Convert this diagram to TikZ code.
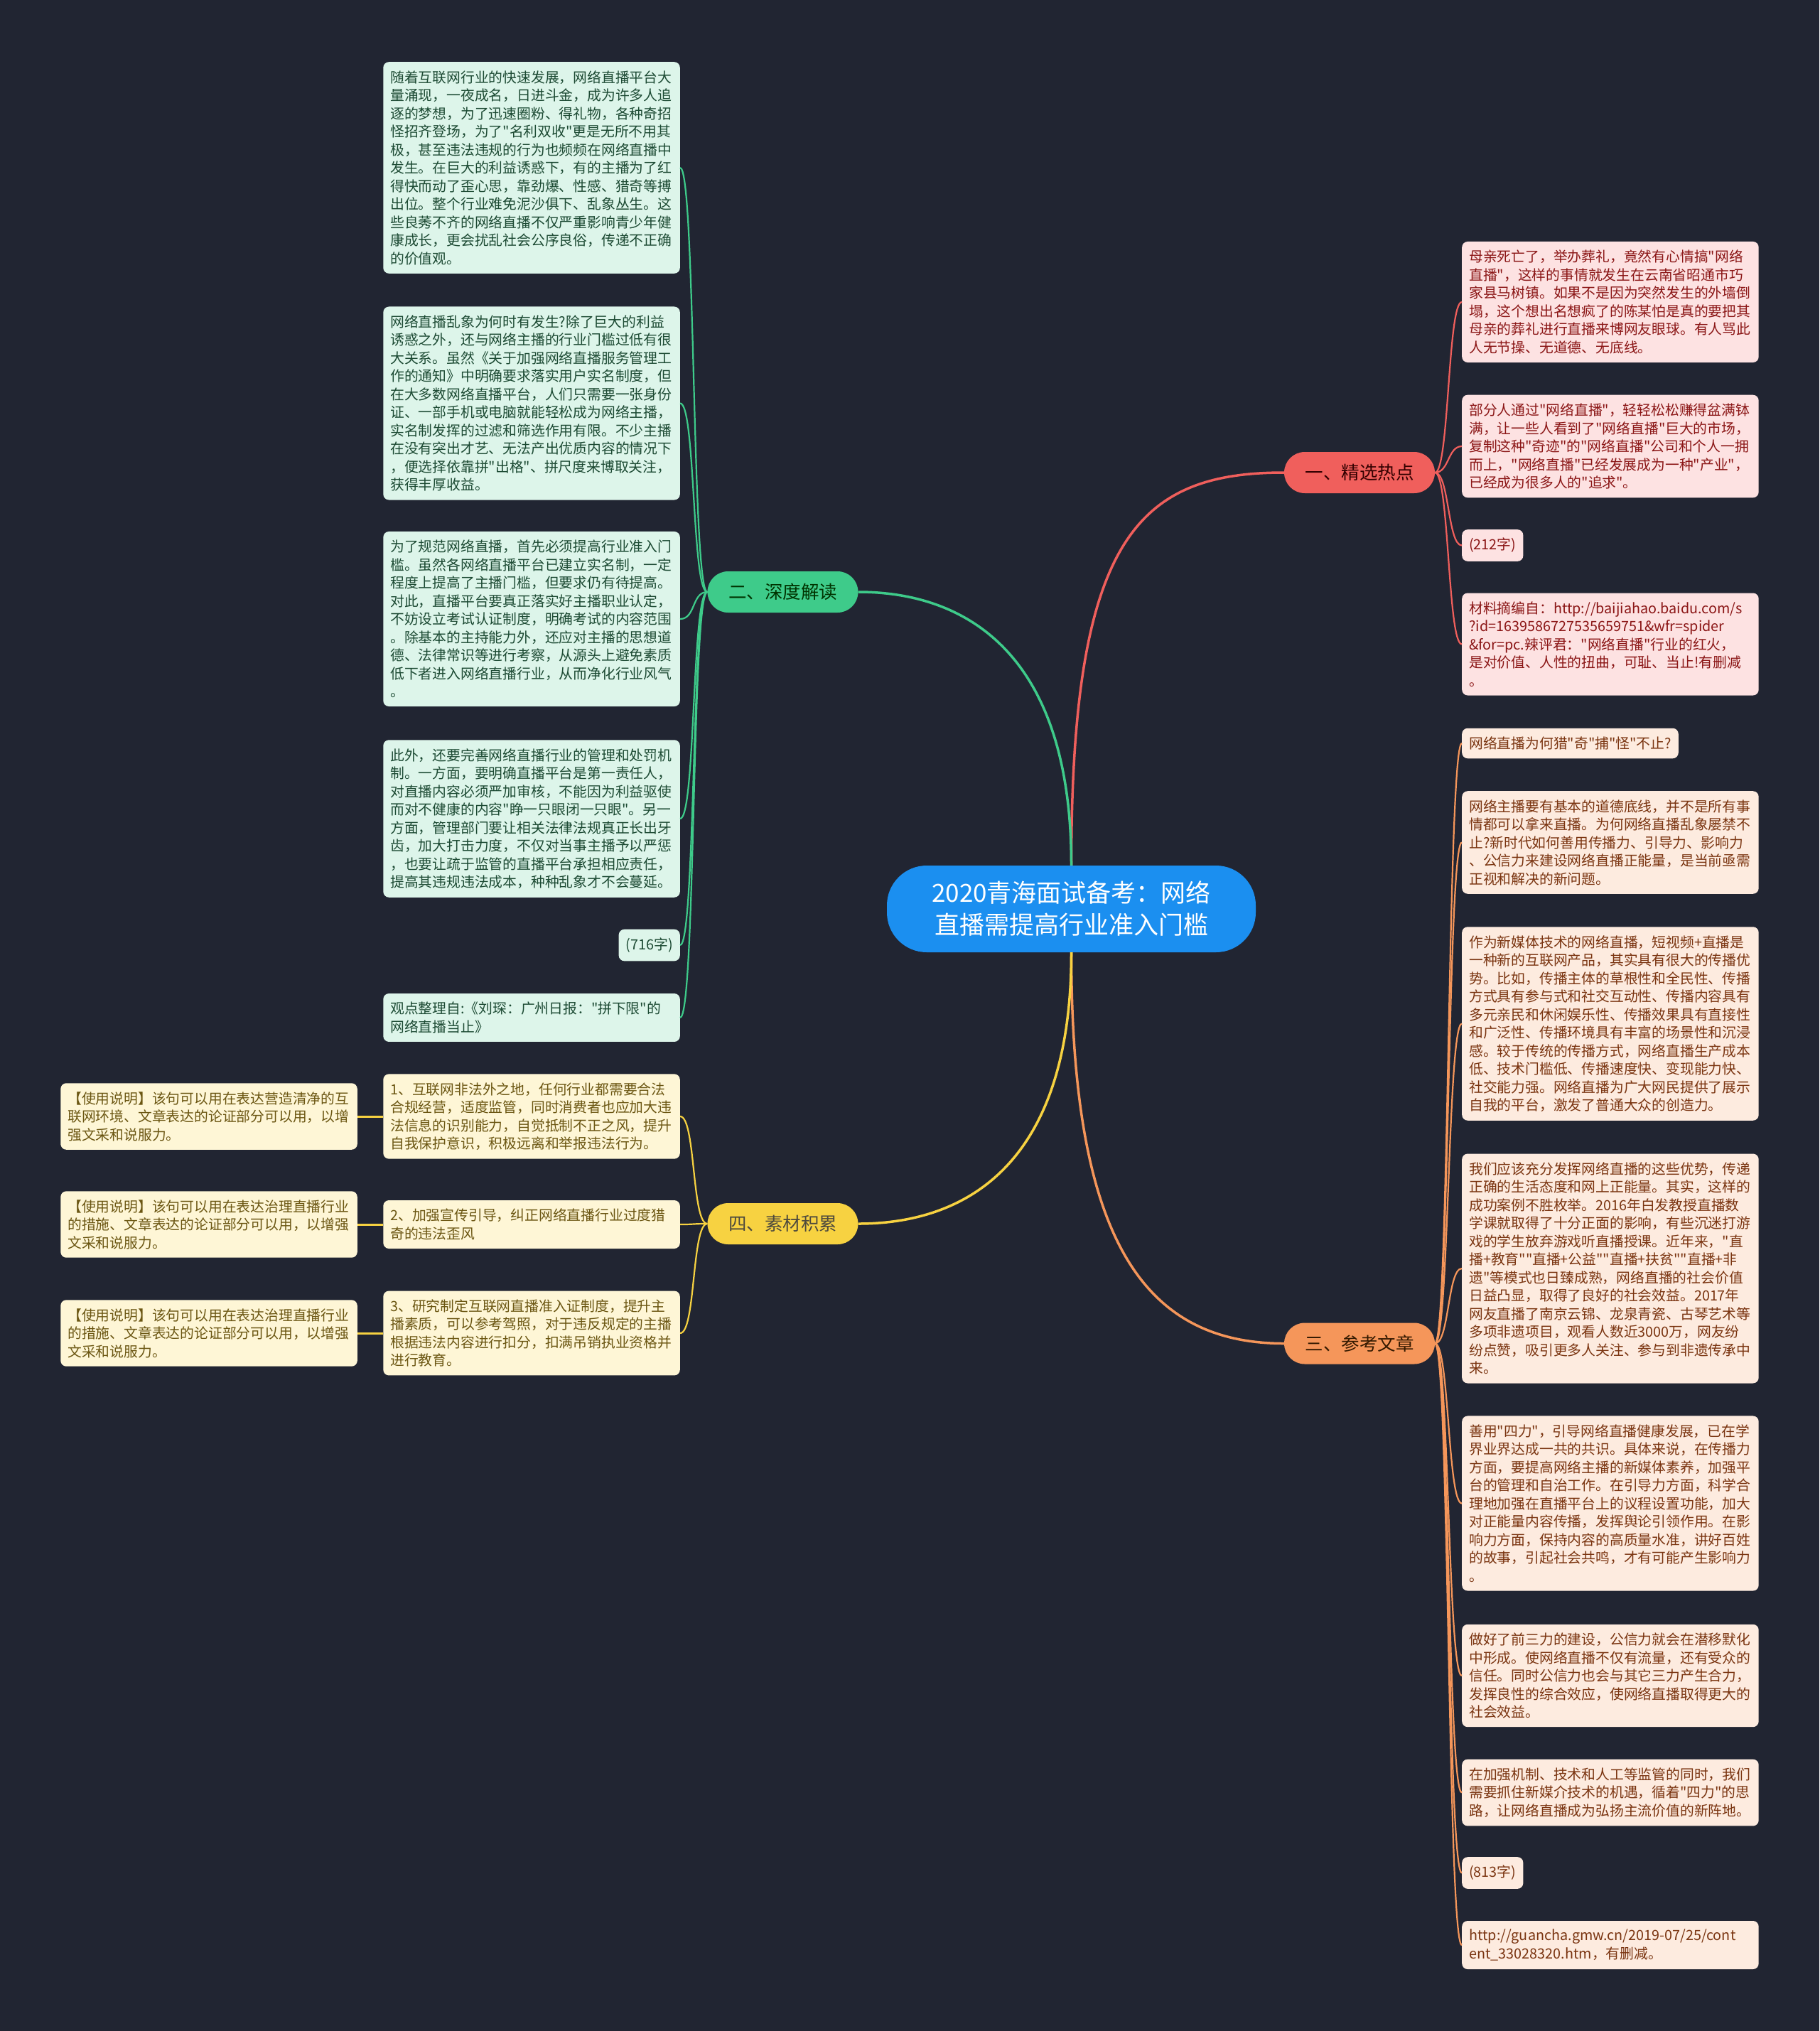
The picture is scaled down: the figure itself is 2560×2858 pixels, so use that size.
\documentclass[tikz,border=0pt]{standalone}
\usepackage{fontspec}
\setmainfont{Noto Sans CJK SC}[Ligatures=TeXOff]

\definecolor{bgdark}{HTML}{212532}
\definecolor{rootblue}{HTML}{1B8FF0}
\definecolor{hotred}{HTML}{F05F5C}
\definecolor{deepgreen}{HTML}{3ECB8A}
\definecolor{refora}{HTML}{F5965A}
\definecolor{matyel}{HTML}{F7D241}
\definecolor{pinkfill}{HTML}{FDE2E2}
\definecolor{mintfill}{HTML}{DDF5EA}
\definecolor{peachfill}{HTML}{FDEBDF}
\definecolor{creamfill}{HTML}{FEF6D6}
\definecolor{redtext}{HTML}{8B1616}
\definecolor{greentext}{HTML}{1C4A33}
\definecolor{oratext}{HTML}{7A3410}
\definecolor{yeltext}{HTML}{6B5612}

\begin{document}
\begin{tikzpicture}[x=1pt,y=-1pt,
    leafbox/.style={rounded corners=8pt, inner xsep=10pt, inner ysep=12pt,
      font=\fontsize{19.8}{25.5}\selectfont},
    widebox/.style={leafbox, text width=397.5pt, align=left},
    branch/.style={rounded corners=29pt, minimum width=212pt, minimum height=58pt,
      inner sep=0pt, font=\fontsize{25.5}{30}\selectfont},
    redleaf/.style={fill=pinkfill, text=redtext},
    greenleaf/.style={fill=mintfill, text=greentext},
    oraleaf/.style={fill=peachfill, text=oratext},
    yelleaf/.style={fill=creamfill, text=yeltext},
    mainline/.style={line width=3.5pt},
    subline/.style={line width=2.2pt}]

  % background
  \fill[bgdark] (0,0) rectangle (2560,2858);

  % centre topic
  \node[fill=rootblue, text=white, rounded corners=56pt, minimum width=519pt,
    minimum height=122pt, align=center, font=\fontsize{35}{45}\selectfont]
    (root) at (1507.5,1279) {2020青海面试备考：网络\\直播需提高行业准入门槛};

  % main branches
  \node[branch, fill=hotred, text=black!80!red] (hot) at (1913,665) {一、精选热点};
  \node[branch, fill=deepgreen, text=black!80!green] (deep) at (1101.5,833) {二、深度解读};
  \node[branch, fill=refora, text=black!80!orange] (refs) at (1913,1890.5) {三、参考文章};
  \node[branch, fill=matyel, text=black!80!yellow] (mats) at (1101.5,1722) {四、素材积累};

  \draw[mainline, hotred] (root.north) .. controls +(0,-458) and +(-207,0) .. (hot.west);
  \draw[mainline, deepgreen] (root.north) .. controls +(0,-300) and +(150,0) .. (deep.east);
  \draw[mainline, refora] (root.south) .. controls +(0,400) and +(-200,0) .. (refs.west);
  \draw[mainline, matyel] (root.south) .. controls +(0,300) and +(150,0) .. (mats.east);

  % 一、精选热点
  \node[widebox, redleaf, anchor=west] (hot1) at (2057,425) {母亲死亡了，举办葬礼，竟然有心情搞"网络\\直播"，这样的事情就发生在云南省昭通市巧\\家县马树镇。如果不是因为突然发生的外墙倒\\塌，这个想出名想疯了的陈某怕是真的要把其\\母亲的葬礼进行直播来博网友眼球。有人骂此\\人无节操、无道德、无底线。};
  \node[widebox, redleaf, anchor=west] (hot2) at (2057,628) {部分人通过"网络直播"，轻轻松松赚得盆满钵\\满，让一些人看到了"网络直播"巨大的市场，\\复制这种"奇迹"的"网络直播"公司和个人一拥\\而上，"网络直播"已经发展成为一种"产业"，\\已经成为很多人的"追求"。};
  \node[leafbox, redleaf, anchor=west] (hot3) at (2057,767.5) {(212字)};
  \node[widebox, redleaf, anchor=west] (hot4) at (2057,906.5) {材料摘编自：http://baijiahao.baidu.com/s\\?id=1639586727535659751\&wfr=spider\\\&for=pc.辣评君："网络直播"行业的红火，\\是对价值、人性的扭曲，可耻、当止!有删减\\。};

  \draw[subline, hotred] (hot.east) .. controls +(20,0) and +(-20,0) .. (hot1.west);
  \draw[subline, hotred] (hot.east) .. controls +(20,0) and +(-20,0) .. (hot2.west);
  \draw[subline, hotred] (hot.east) .. controls +(20,0) and +(-20,0) .. (hot3.west);
  \draw[subline, hotred] (hot.east) .. controls +(20,0) and +(-20,0) .. (hot4.west);

  % 二、深度解读
  \node[widebox, greenleaf, anchor=east] (deep1) at (957,236) {随着互联网行业的快速发展，网络直播平台大\\量涌现，一夜成名，日进斗金，成为许多人追\\逐的梦想，为了迅速圈粉、得礼物，各种奇招\\怪招齐登场，为了"名利双收"更是无所不用其\\极，甚至违法违规的行为也频频在网络直播中\\发生。在巨大的利益诱惑下，有的主播为了红\\得快而动了歪心思，靠劲爆、性感、猎奇等搏\\出位。整个行业难免泥沙俱下、乱象丛生。这\\些良莠不齐的网络直播不仅严重影响青少年健\\康成长，更会扰乱社会公序良俗，传递不正确\\的价值观。};
  \node[widebox, greenleaf, anchor=east] (deep2) at (957,567.5) {网络直播乱象为何时有发生?除了巨大的利益\\诱惑之外，还与网络主播的行业门槛过低有很\\大关系。虽然《关于加强网络直播服务管理工\\作的通知》中明确要求落实用户实名制度，但\\在大多数网络直播平台，人们只需要一张身份\\证、一部手机或电脑就能轻松成为网络主播，\\实名制发挥的过滤和筛选作用有限。不少主播\\在没有突出才艺、无法产出优质内容的情况下\\，便选择依靠拼"出格"、拼尺度来博取关注，\\获得丰厚收益。};
  \node[widebox, greenleaf, anchor=east] (deep3) at (957,871) {为了规范网络直播，首先必须提高行业准入门\\槛。虽然各网络直播平台已建立实名制，一定\\程度上提高了主播门槛，但要求仍有待提高。\\对此，直播平台要真正落实好主播职业认定，\\不妨设立考试认证制度，明确考试的内容范围\\。除基本的主持能力外，还应对主播的思想道\\德、法律常识等进行考察，从源头上避免素质\\低下者进入网络直播行业，从而净化行业风气\\。};
  \node[widebox, greenleaf, anchor=east] (deep4) at (957,1152) {此外，还要完善网络直播行业的管理和处罚机\\制。一方面，要明确直播平台是第一责任人，\\对直播内容必须严加审核，不能因为利益驱使\\而对不健康的内容"睁一只眼闭一只眼"。另一\\方面，管理部门要让相关法律法规真正长出牙\\齿，加大打击力度，不仅对当事主播予以严惩\\，也要让疏于监管的直播平台承担相应责任，\\提高其违规违法成本，种种乱象才不会蔓延。};
  \node[leafbox, greenleaf, anchor=east] (deep5) at (957,1330) {(716字)};
  \node[widebox, greenleaf, anchor=east] (deep6) at (957,1432) {观点整理自:《刘琛：广州日报："拼下限"的\\网络直播当止》};

  \draw[subline, deepgreen] (deep.west) .. controls +(-22,0) and +(22,0) .. (deep1.east);
  \draw[subline, deepgreen] (deep.west) .. controls +(-22,0) and +(22,0) .. (deep2.east);
  \draw[subline, deepgreen] (deep.west) .. controls +(-22,0) and +(22,0) .. (deep3.east);
  \draw[subline, deepgreen] (deep.west) .. controls +(-22,0) and +(22,0) .. (deep4.east);
  \draw[subline, deepgreen] (deep.west) .. controls +(-22,0) and +(22,0) .. (deep5.east);
  \draw[subline, deepgreen] (deep.west) .. controls +(-22,0) and +(22,0) .. (deep6.east);

  % 三、参考文章
  \node[leafbox, oraleaf, anchor=west] (ref1) at (2057,1046) {网络直播为何猎"奇"捕"怪"不止?};
  \node[widebox, oraleaf, anchor=west] (ref2) at (2057,1185.5) {网络主播要有基本的道德底线，并不是所有事\\情都可以拿来直播。为何网络直播乱象屡禁不\\止?新时代如何善用传播力、引导力、影响力\\、公信力来建设网络直播正能量，是当前亟需\\正视和解决的新问题。};
  \node[widebox, oraleaf, anchor=west] (ref3) at (2057,1440.5) {作为新媒体技术的网络直播，短视频+直播是\\一种新的互联网产品，其实具有很大的传播优\\势。比如，传播主体的草根性和全民性、传播\\方式具有参与式和社交互动性、传播内容具有\\多元亲民和休闲娱乐性、传播效果具有直接性\\和广泛性、传播环境具有丰富的场景性和沉浸\\感。较于传统的传播方式，网络直播生产成本\\低、技术门槛低、传播速度快、变现能力快、\\社交能力强。网络直播为广大网民提供了展示\\自我的平台，激发了普通大众的创造力。};
  \node[widebox, oraleaf, anchor=west] (ref4) at (2057,1785) {我们应该充分发挥网络直播的这些优势，传递\\正确的生活态度和网上正能量。其实，这样的\\成功案例不胜枚举。2016年白发教授直播数\\学课就取得了十分正面的影响，有些沉迷打游\\戏的学生放弃游戏听直播授课。近年来，"直\\播+教育""直播+公益""直播+扶贫""直播+非\\遗"等模式也日臻成熟，网络直播的社会价值\\日益凸显，取得了良好的社会效益。2017年\\网友直播了南京云锦、龙泉青瓷、古琴艺术等\\多项非遗项目，观看人数近3000万，网友纷\\纷点赞，吸引更多人关注、参与到非遗传承中\\来。};
  \node[widebox, oraleaf, anchor=west] (ref5) at (2057,2115.5) {善用"四力"，引导网络直播健康发展，已在学\\界业界达成一共的共识。具体来说，在传播力\\方面，要提高网络主播的新媒体素养，加强平\\台的管理和自治工作。在引导力方面，科学合\\理地加强在直播平台上的议程设置功能，加大\\对正能量内容传播，发挥舆论引领作用。在影\\响力方面，保持内容的高质量水准，讲好百姓\\的故事，引起社会共鸣，才有可能产生影响力\\。};
  \node[widebox, oraleaf, anchor=west] (ref6) at (2057,2358) {做好了前三力的建设，公信力就会在潜移默化\\中形成。使网络直播不仅有流量，还有受众的\\信任。同时公信力也会与其它三力产生合力，\\发挥良性的综合效应，使网络直播取得更大的\\社会效益。};
  \node[widebox, oraleaf, anchor=west] (ref7) at (2057,2522.5) {在加强机制、技术和人工等监管的同时，我们\\需要抓住新媒介技术的机遇，循着"四力"的思\\路，让网络直播成为弘扬主流价值的新阵地。};
  \node[leafbox, oraleaf, anchor=west] (ref8) at (2057,2635.5) {(813字)};
  \node[widebox, oraleaf, anchor=west] (ref9) at (2057,2737) {http://guancha.gmw.cn/2019-07/25/cont\\ent\_33028320.htm，有删减。};

  \draw[subline, refora] (refs.east) .. controls +(20,0) and +(-20,0) .. (ref1.west);
  \draw[subline, refora] (refs.east) .. controls +(20,0) and +(-20,0) .. (ref2.west);
  \draw[subline, refora] (refs.east) .. controls +(20,0) and +(-20,0) .. (ref3.west);
  \draw[subline, refora] (refs.east) .. controls +(20,0) and +(-20,0) .. (ref4.west);
  \draw[subline, refora] (refs.east) .. controls +(20,0) and +(-20,0) .. (ref5.west);
  \draw[subline, refora] (refs.east) .. controls +(20,0) and +(-20,0) .. (ref6.west);
  \draw[subline, refora] (refs.east) .. controls +(20,0) and +(-20,0) .. (ref7.west);
  \draw[subline, refora] (refs.east) .. controls +(20,0) and +(-20,0) .. (ref8.west);
  \draw[subline, refora] (refs.east) .. controls +(20,0) and +(-20,0) .. (ref9.west);

  % 四、素材积累
  \node[widebox, yelleaf, anchor=east] (mat1) at (957,1571) {1、互联网非法外之地，任何行业都需要合法\\合规经营，适度监管，同时消费者也应加大违\\法信息的识别能力，自觉抵制不正之风，提升\\自我保护意识，积极远离和举报违法行为。};
  \node[widebox, yelleaf, anchor=east] (mat2) at (957,1723) {2、加强宣传引导，纠正网络直播行业过度猎\\奇的违法歪风};
  \node[widebox, yelleaf, anchor=east] (mat3) at (957,1876) {3、研究制定互联网直播准入证制度，提升主\\播素质，可以参考驾照，对于违反规定的主播\\根据违法内容进行扣分，扣满吊销执业资格并\\进行教育。};

  \node[widebox, yelleaf, anchor=east] (use1) at (503,1571) {【使用说明】该句可以用在表达营造清净的互\\联网环境、文章表达的论证部分可以用，以增\\强文采和说服力。};
  \node[widebox, yelleaf, anchor=east] (use2) at (503,1723) {【使用说明】该句可以用在表达治理直播行业\\的措施、文章表达的论证部分可以用，以增强\\文采和说服力。};
  \node[widebox, yelleaf, anchor=east] (use3) at (503,1876) {【使用说明】该句可以用在表达治理直播行业\\的措施、文章表达的论证部分可以用，以增强\\文采和说服力。};

  \draw[subline, matyel] (mats.west) .. controls +(-22,0) and +(22,0) .. (mat1.east);
  \draw[subline, matyel] (mats.west) .. controls +(-22,0) and +(22,0) .. (mat2.east);
  \draw[subline, matyel] (mats.west) .. controls +(-22,0) and +(22,0) .. (mat3.east);
  \draw[line width=3pt, matyel] (mat1.west) -- (use1.east);
  \draw[line width=3pt, matyel] (mat2.west) -- (use2.east);
  \draw[line width=3pt, matyel] (mat3.west) -- (use3.east);
\end{tikzpicture}
\end{document}
